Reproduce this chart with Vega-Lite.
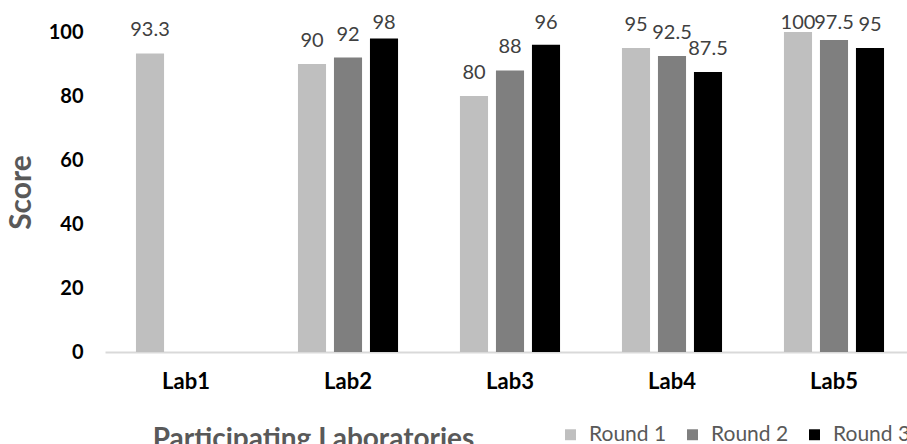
{
  "$schema": "https://vega.github.io/schema/vega-lite/v6.json",
  "width": 810,
  "height": 320,
  "autosize": "none",
  "padding": {"left": 105, "top": 32, "right": 0, "bottom": 92},
  "background": "white",
  "config": {"view": {"stroke": null}, "font": "Lato"},
  "data": {
    "values": [
      {"lab": "Lab1", "round": "Round 1", "score": 93.3},
      {"lab": "Lab2", "round": "Round 1", "score": 90},
      {"lab": "Lab2", "round": "Round 2", "score": 92},
      {"lab": "Lab2", "round": "Round 3", "score": 98},
      {"lab": "Lab3", "round": "Round 1", "score": 80},
      {"lab": "Lab3", "round": "Round 2", "score": 88},
      {"lab": "Lab3", "round": "Round 3", "score": 96},
      {"lab": "Lab4", "round": "Round 1", "score": 95},
      {"lab": "Lab4", "round": "Round 2", "score": 92.5},
      {"lab": "Lab4", "round": "Round 3", "score": 87.5},
      {"lab": "Lab5", "round": "Round 1", "score": 100},
      {"lab": "Lab5", "round": "Round 2", "score": 97.5},
      {"lab": "Lab5", "round": "Round 3", "score": 95}
    ]
  },
  "encoding": {
    "x": {
      "field": "lab", "type": "nominal",
      "scale": {"paddingInner": 0.3333, "paddingOuter": 0.1667},
      "axis": {
        "labelAngle": 0, "labelFontSize": 22, "labelFontWeight": "bold", "labelColor": "#000000",
        "labelPadding": 19, "ticks": false, "domainColor": "#d9d9d9", "domainWidth": 2,
        "title": "Participating Laboratories", "titleFontSize": 28, "titleFontWeight": "bold",
        "titleColor": "#595959", "titleX": 208, "titleY": 95, "titleBaseline": "alphabetic", "titleAlign": "center"
      }
    },
    "xOffset": {
      "field": "round", "type": "nominal",
      "scale": {"domain": ["Round 1", "Round 2", "Round 3"], "paddingInner": 0.22, "paddingOuter": 0.11}
    }
  },
  "layer": [
    {
      "mark": {"type": "bar"},
      "encoding": {
        "y": {
          "field": "score", "type": "quantitative",
          "scale": {"domain": [0, 100], "nice": false},
          "axis": {
            "values": [0, 20, 40, 60, 80, 100], "labelFontSize": 20, "labelFontWeight": "bold", "labelColor": "#000000",
            "labelPadding": 22, "ticks": false, "domain": false, "grid": false,
            "title": "Score", "titleFontSize": 30, "titleFontWeight": "bold", "titleColor": "#595959",
            "titleX": -84, "titleY": 160, "titleAlign": "center", "titleBaseline": "middle", "titleAngle": -90
          }
        },
        "color": {
          "field": "round", "type": "nominal",
          "scale": {"domain": ["Round 1", "Round 2", "Round 3"], "range": ["#bfbfbf", "#7f7f7f", "#000000"]},
          "legend": {
            "title": null, "orient": "none", "direction": "horizontal", "legendX": 455, "legendY": 392,
            "symbolType": "square", "symbolSize": 120, "symbolStrokeWidth": 0, "labelFontSize": 21,
            "labelColor": "#595959", "labelFont": "Lato", "columnPadding": 15, "labelOffset": 8
          }
        }
      }
    },
    {
      "mark": {"type": "text", "fontSize": 20, "color": "#404040", "baseline": "alphabetic", "dy": -17},
      "encoding": {
        "y": {
          "field": "score", "type": "quantitative",
          "scale": {"domain": [0, 95.6], "range": [320, 14.08], "clamp": true, "nice": false, "zero": true},
          "axis": null
        },
        "text": {"field": "score", "type": "quantitative"}
      }
    }
  ],
  "resolve": {"scale": {"y": "independent"}}
}
